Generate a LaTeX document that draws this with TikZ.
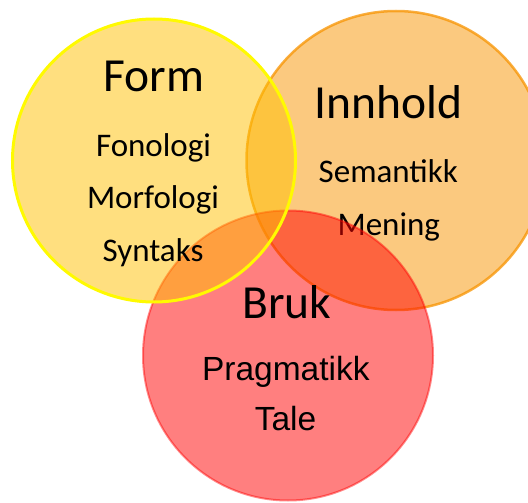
\documentclass[tikz,border=0pt]{standalone}
\usepackage{fontspec}
\setmainfont{Carlito}
\newfontfamily\arialfont{Liberation Sans}
\usetikzlibrary{positioning}
\definecolor{formcol}{RGB}{255,192,0}
\definecolor{formline}{RGB}{255,250,0}
\definecolor{innholdcol}{RGB}{247,147,0}
\definecolor{brukcol}{RGB}{255,0,0}
\def\formcircle{(154pt,-160.5pt) circle (141.5pt)}
\def\innholdcircle{(396pt,-160.5pt) circle (149.5pt)}
\def\brukcircle{(288pt,-355.5pt) circle (145pt)}

\begin{document}
\begin{tikzpicture}[title/.style={font=\fontsize{47.5pt}{47.5pt}\selectfont, anchor=base},
    item/.style={font=\fontsize{33pt}{33pt}\selectfont, anchor=base},
    arialitem/.style={font=\arialfont\fontsize{33.5pt}{33.5pt}\selectfont, anchor=base}]
    \useasboundingbox (0,0) rectangle (528pt,-503pt);
    \begin{scope}[fill opacity=.5, text opacity=1]
    \fill[innholdcol] \innholdcircle;
    \draw[innholdcol, line width=2.5pt, draw opacity=.75] \innholdcircle;
    \node[title] (innhold) at (388.3pt,-118.3pt) {Innhold};
    \node[item] (semantikk) at (388.3pt,-182.7pt) {Semantikk};
    \node[item] (mening) at (388.8pt,-235pt) {Mening};
    \fill[brukcol] \brukcircle;
    \draw[brukcol, line width=2pt, draw opacity=.45] \brukcircle;
    \node[title] (bruk) at (286.7pt,-318.3pt) {Bruk};
    \node[arialitem] (pragmatikk) at (285.8pt,-380.7pt) {Pragmatikk};
    \node[arialitem] (tale) at (285.5pt,-430.7pt) {Tale};
    \fill[formcol] \formcircle;
    \draw[formline, line width=3pt, draw opacity=1] \formcircle;
    \node[title] (form) at (153.8pt,-91.7pt) {Form};
    \node[item] (fonologi) at (153.5pt,-156pt) {Fonologi};
    \node[item] (morfologi) at (153pt,-208.3pt) {Morfologi};
    \node[item] (syntaks) at (153pt,-261.7pt) {Syntaks};
    \end{scope}
\end{tikzpicture}
\end{document}
